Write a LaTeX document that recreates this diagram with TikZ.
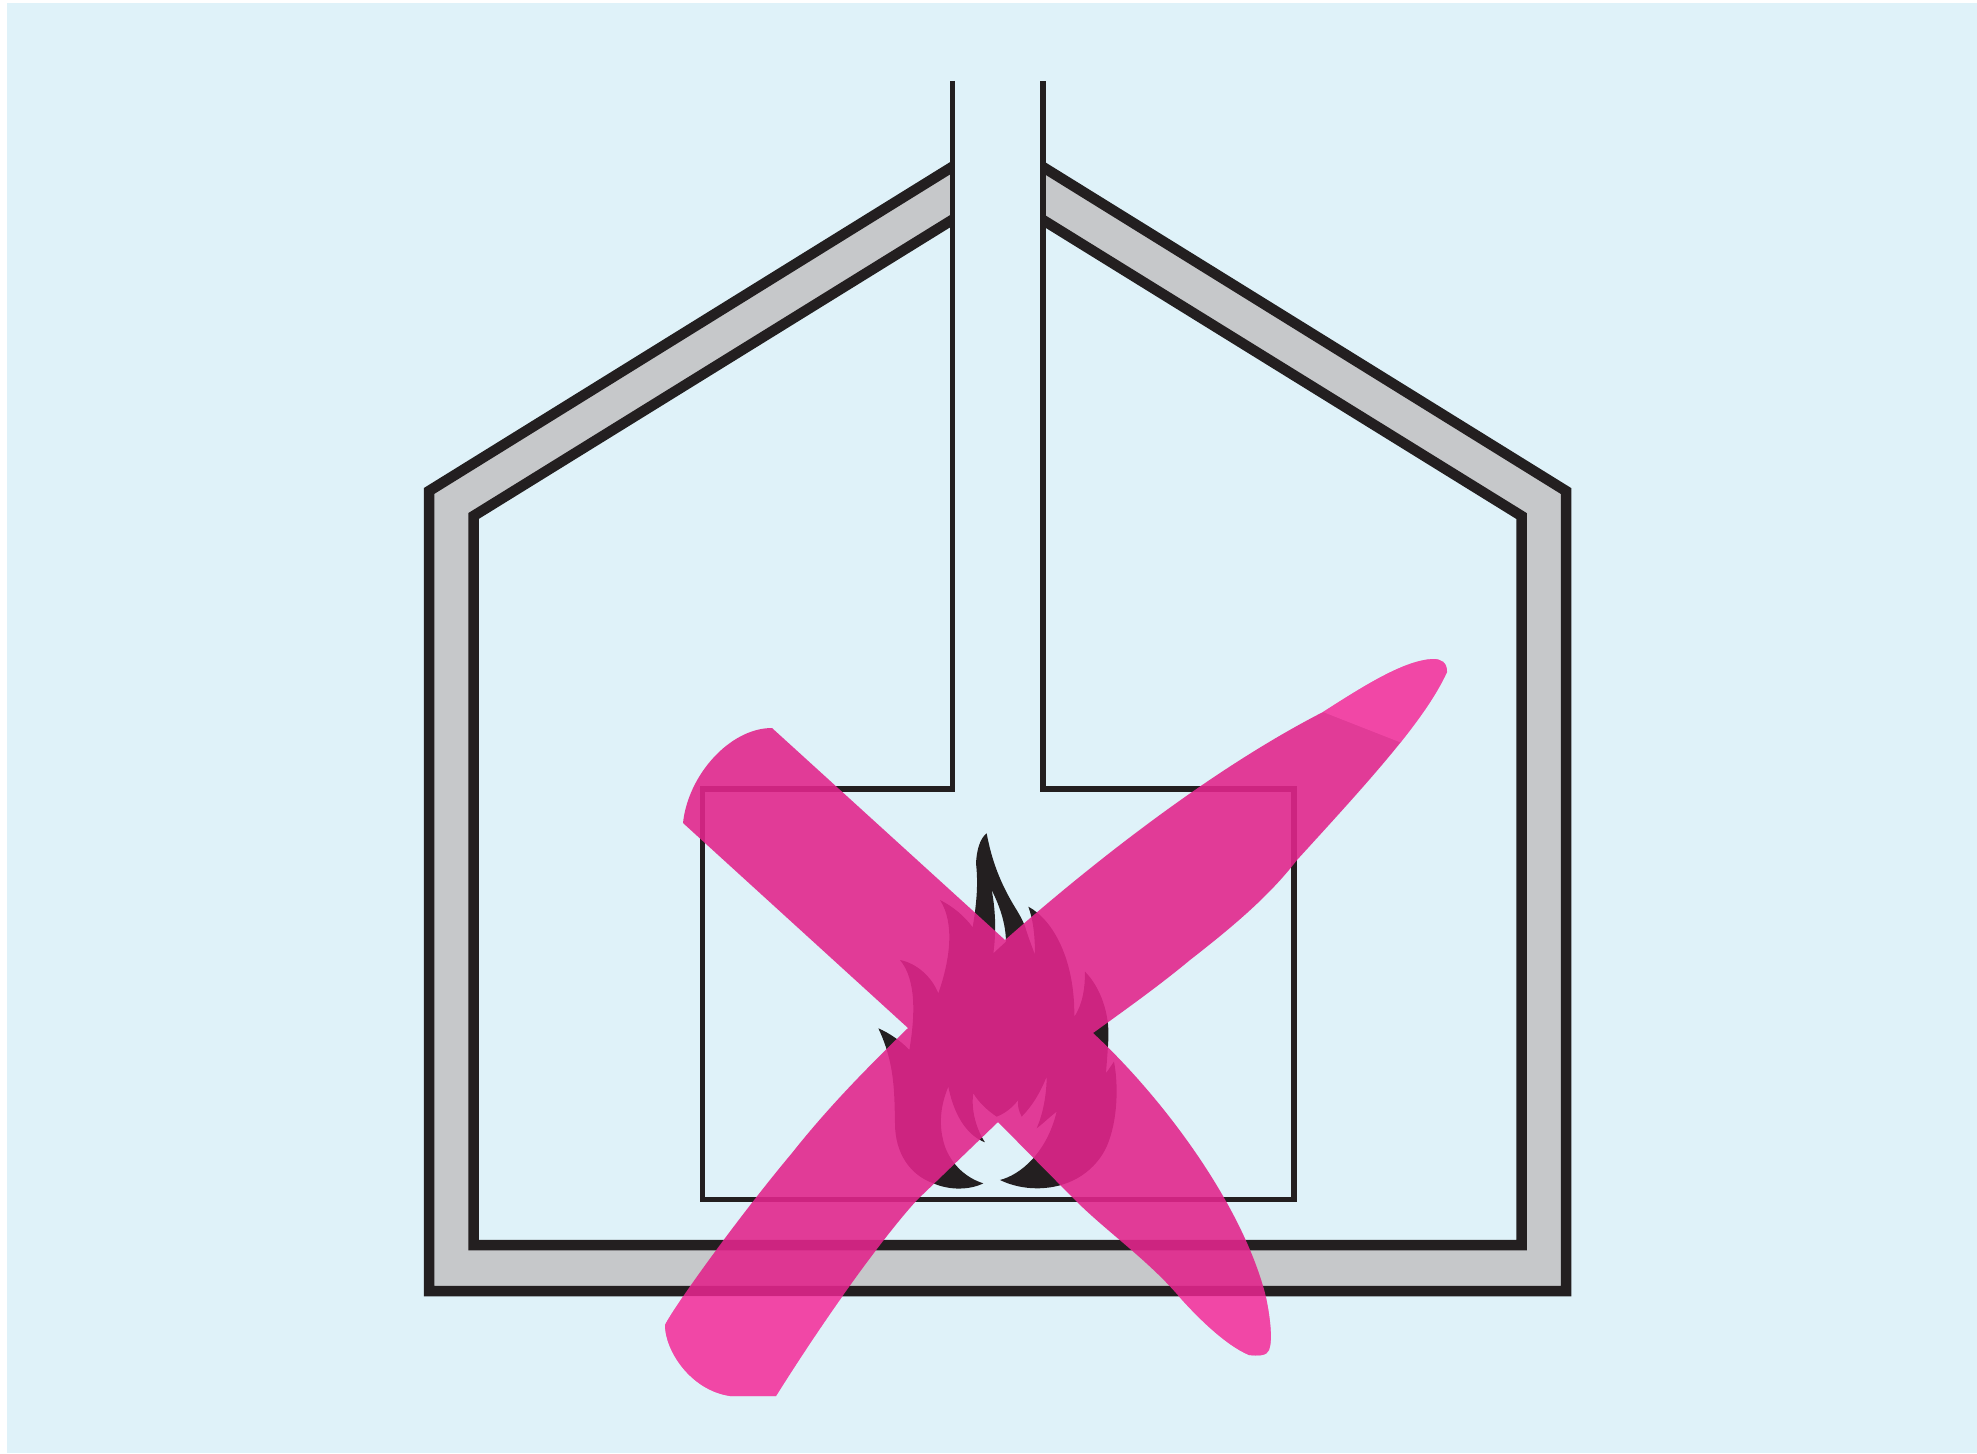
\documentclass[tikz,border=0pt]{standalone}
\definecolor{bgblue}{HTML}{DFF2F9}
\definecolor{wallgray}{HTML}{C6C8CA}
\definecolor{inkblack}{HTML}{231F20}
\definecolor{crosspink}{HTML}{E2258C}
\definecolor{endpink}{HTML}{FF52B4}
\newcommand{\crosspath}{
  (772,728) -- (1005,940)
  .. controls (1090,865) and (1210,770) .. (1323,712)
  .. controls (1365,685) and (1405,660) .. (1433,659)
  .. controls (1441,659) and (1447,662) .. (1447,672)
  .. controls (1425,720) and (1370,780) .. (1297,860)
  .. controls (1270,895) and (1235,925) .. (1190,960)
  .. controls (1160,985) and (1125,1010) .. (1093,1033)
  .. controls (1160,1095) and (1240,1200) .. (1265,1293)
  .. controls (1270,1315) and (1273,1340) .. (1269,1350)
  .. controls (1267,1356) and (1258,1356) .. (1249,1355)
  .. controls (1225,1345) and (1195,1315) .. (1176,1293)
  .. controls (1145,1258) and (1105,1230) .. (1075,1200)
  -- (998,1122) -- (917,1200)
  .. controls (885,1235) and (830,1310) .. (776,1396)
  -- (730,1396)
  .. controls (690,1390) and (665,1350) .. (665,1325)
  .. controls (675,1305) and (740,1215) .. (792,1153)
  .. controls (830,1105) and (870,1065) .. (908,1028)
  -- (683,823)
  .. controls (688,775) and (730,728) .. (772,728)
  -- cycle}
\tikzset{
  wallline/.style={draw=inkblack,line width=10.5pt,miter limit=10},
  fireline/.style={draw=inkblack,line width=5.5pt,miter limit=10},
  crossfill/.style={fill=crosspink,fill opacity=.89},
  endglow/.style={fill=endpink,fill opacity=.55},
}
\begin{document}
\begin{tikzpicture}[x=1pt,y=-1pt]
\useasboundingbox (0,0) rectangle (1977,1453);
\fill[white] (0,0) rectangle (1977,1453);
\fill[bgblue] (7,3) rectangle (1977,1453);
% wall band
\fill[wallgray] (952,167) -- (429,491) -- (429,1291) -- (1566,1291) -- (1566,491) -- (1043,167)
  -- (1043,220) -- (1521.5,516) -- (1521.5,1245) -- (473.5,1245) -- (473.5,516) -- (952,220) -- cycle;
\begin{scope}
\clip (0,0) rectangle (952,1453) (1043,0) rectangle (1977,1453) (952,400) rectangle (1043,1453);
\draw[wallline] (965,159) -- (429,491) -- (429,1291) -- (1566,1291) -- (1566,491) -- (1030,159);
\draw[wallline] (965,212) -- (473.5,516) -- (473.5,1245) -- (1521.5,1245) -- (1521.5,516) -- (1030,212);
\end{scope}
% chimney and firebox
\draw[fireline] (952.5,81) -- (952.5,789) -- (702.5,789) -- (702.5,1199.5) -- (1294,1199.5) -- (1294,789) -- (1043,789) -- (1043,81);
% flame
\begin{scope}[shift={(840,800)},x=.3333pt,y=-.3333pt]
\fill[inkblack,even odd rule]
  (440,100) .. controls (455,180) and (480,250) .. (530,330)
  .. controls (545,355) and (555,375) .. (560,395)
  .. controls (568,420) and (578,445) .. (585,465)
  .. controls (585,410) and (580,360) .. (565,320)
  .. controls (640,360) and (705,480) .. (703,650)
  .. controls (730,610) and (735,560) .. (735,515)
  .. controls (780,560) and (810,640) .. (805,720)
  .. controls (803,760) and (800,790) .. (798,820)
  -- (822,785)
  .. controls (835,850) and (835,960) .. (800,1040)
  .. controls (770,1105) and (700,1165) .. (590,1165)
  .. controls (550,1165) and (510,1155) .. (480,1140)
  .. controls (540,1125) and (620,1060) .. (650,935)
  .. controls (630,950) and (610,970) .. (590,985)
  .. controls (610,940) and (620,880) .. (620,830)
  .. controls (600,880) and (575,920) .. (545,950)
  .. controls (535,930) and (532,915) .. (535,900)
  .. controls (515,925) and (495,940) .. (470,950)
  .. controls (440,930) and (415,905) .. (400,880)
  .. controls (392,930) and (410,990) .. (435,1027)
  .. controls (390,1010) and (345,960) .. (325,860)
  .. controls (300,920) and (295,980) .. (315,1040)
  .. controls (335,1095) and (380,1135) .. (430,1150)
  .. controls (390,1170) and (330,1172) .. (280,1150)
  .. controls (210,1125) and (165,1060) .. (165,970)
  .. controls (163,880) and (165,790) .. (115,685)
  .. controls (150,700) and (185,725) .. (208,750)
  .. controls (225,650) and (230,540) .. (180,480)
  .. controls (230,490) and (275,530) .. (295,580)
  .. controls (330,480) and (345,370) .. (300,300)
  .. controls (340,320) and (375,350) .. (398,382)
  .. controls (410,310) and (415,250) .. (408,190)
  .. controls (410,150) and (420,115) .. (440,100)
  -- cycle
  (455,270) .. controls (480,320) and (497,370) .. (498,425)
  -- (460,460)
  .. controls (470,390) and (465,320) .. (455,270)
  -- cycle;
\end{scope}
% the cross
\fill[crossfill] \crosspath;
\begin{scope}
\clip \crosspath;
\fill[endglow] (600,1296) rectangle (1300,1420);
\fill[endglow] (1323,712) -- (1402,743) -- (1480,700) -- (1480,630) -- (1323,630) -- cycle;
\end{scope}
\end{tikzpicture}
\end{document}
